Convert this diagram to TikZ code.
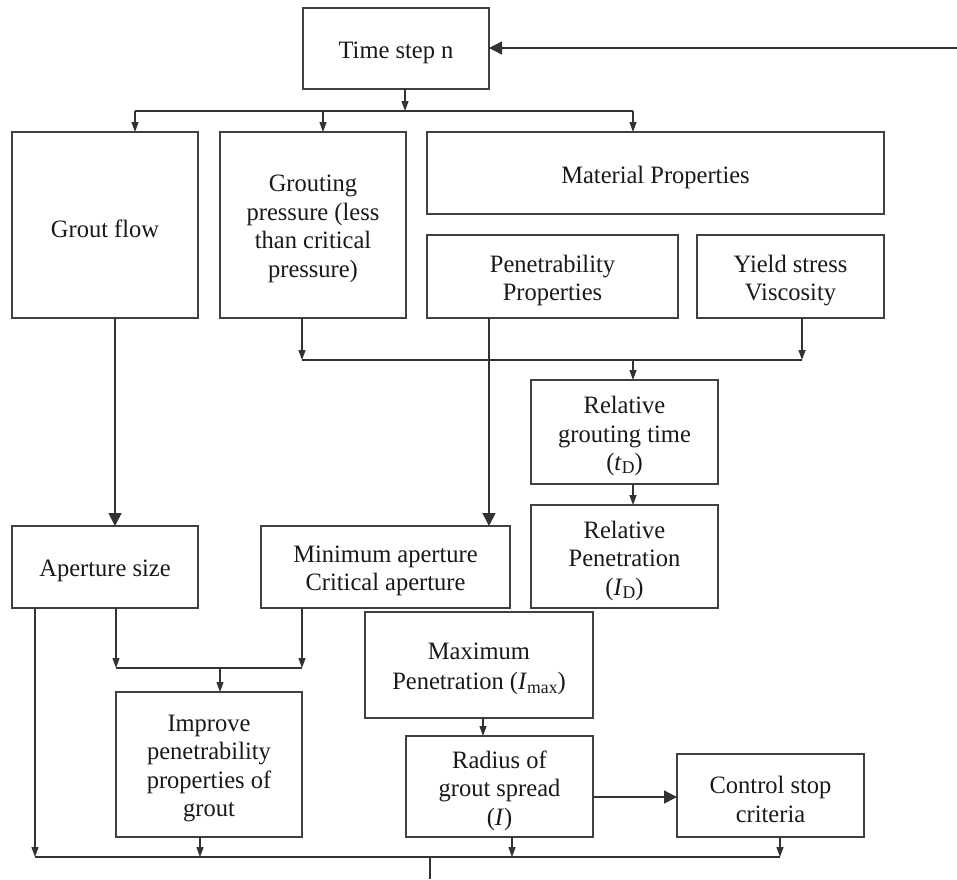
\documentclass[tikz,border=0pt]{standalone}
\usepackage{fontspec}
\setmainfont{Liberation Serif}[FakeStretch=0.98]
\usetikzlibrary{arrows.meta,positioning}
\newcommand{\subD}[1]{\raisebox{-0.3ex}{\fontsize{18}{18}\selectfont #1}}
\begin{document}
\begin{tikzpicture}[x=1pt,y=-1pt,
  txt/.style={align=center, font=\fontsize{25}{28.5}\selectfont, text=black!90, inner sep=0pt, yshift=-4pt},
  box/.style={draw=black!75, line width=1.8pt, anchor=north west, inner sep=0pt, outer sep=0pt,
    label={[txt]center:#1}},
  ln/.style={draw=black!80, line width=1.2pt},
  arr/.style={ln, -{Triangle[length=10pt,width=7pt]}},
  bigarr/.style={ln, line width=1.4pt, -{Triangle[length=13pt,width=13pt]}}]
\useasboundingbox (0,0) rectangle (957,879);
% boxes
\node[box={Time step n}, minimum width=186pt, minimum height=81pt] (ts) at (303,8) {};
\node[box={Grout flow}, minimum width=186pt, minimum height=186pt] (gf) at (12,132) {};
\node[box={Grouting\\pressure (less\\than critical\\pressure)}, minimum width=186pt, minimum height=186pt] (gp) at (220,132) {};
\node[box={Material Properties}, minimum width=457pt, minimum height=82pt] (mp) at (427,132) {};
\node[box={Penetrability\\Properties}, minimum width=251pt, minimum height=83pt] (pp) at (427,235) {};
\node[box={Yield stress\\Viscosity}, minimum width=187pt, minimum height=83pt] (ys) at (697,235) {};
\node[box={Relative\\grouting time\\(\textit{t}\subD{D})}, minimum width=187pt, minimum height=104pt] (rgt) at (531,380) {};
\node[box={Relative\\Penetration\\(\textit{I}\subD{D})}, minimum width=187pt, minimum height=103pt] (rp) at (531,505) {};
\node[box={Aperture size}, minimum width=186pt, minimum height=82pt] (as) at (12,526) {};
\node[box={Minimum aperture\\Critical aperture}, minimum width=249pt, minimum height=82pt] (ma) at (261,526) {};
\node[box={Maximum\\[2pt]Penetration (\textit{I}\subD{max})}, minimum width=228pt, minimum height=106pt] (mx) at (365,612) {};
\node[box={Improve\\penetrability\\properties of\\grout}, minimum width=186pt, minimum height=145pt] (imp) at (116,692) {};
\node[box={Radius of\\grout spread\\(\textit{I})}, minimum width=187pt, minimum height=101pt] (rad) at (406,736) {};
\node[box={Control stop\\criteria}, minimum width=187pt, minimum height=83pt] (ctl) at (677,754) {};
% top distribution
\coordinate (j1) at (405,111);
\coordinate (t1) at (135,111);
\coordinate (t2) at (323,111);
\coordinate (t3) at (633,111);
\draw[arr] (ts.south -| j1) -- (j1);
\draw[ln] (t1) -- (t3);
\draw[arr] (t1) -- (t1 |- gf.north);
\draw[arr] (t2) -- (t2 |- gp.north);
\draw[arr] (t3) -- (t3 |- mp.north);
% feedback from right
\coordinate (e) at (957,48);
\draw[bigarr] (e) -- (ts.east |- e);
% junction at y=360
\coordinate (m1) at (302,360);
\coordinate (m2) at (802,360);
\coordinate (m3) at (633,360);
\draw[arr] (m1 |- gp.south) -- (m1);
\draw[arr] (m2 |- ys.south) -- (m2);
\draw[ln] (m1) -- (m2);
\draw[arr] (m3) -- (m3 |- rgt.north);
\draw[arr] (rgt.south -| m3) -- (m3 |- rp.north);
% long arrows
\coordinate (p1) at (489,400);
\draw[bigarr] (pp.south -| p1) -- (p1 |- ma.north);
\coordinate (g1) at (115,400);
\draw[bigarr] (gf.south -| g1) -- (g1 |- as.north);
% junction at y=668
\coordinate (l1) at (116,668);
\coordinate (l2) at (302,668);
\coordinate (l3) at (220,668);
\draw[arr] (as.south -| l1) -- (l1);
\draw[arr] (ma.south -| l2) -- (l2);
\draw[ln] (l1) -- (l2);
\draw[arr] (l3) -- (l3 |- imp.north);
% max -> radius
\coordinate (r1) at (483,727);
\draw[arr] (mx.south -| r1) -- (r1 |- rad.north);
% radius -> control
\coordinate (c1) at (635,797);
\draw[bigarr] (rad.east |- c1) -- (ctl.west |- c1);
% bottom collector
\coordinate (b0) at (35,857);
\coordinate (b1) at (200,857);
\coordinate (b2) at (512,857);
\coordinate (b3) at (780,857);
\coordinate (b4) at (430,857);
\coordinate (bend) at (430,879);
\draw[arr] (as.south -| b0) -- (b0);
\draw[arr] (imp.south -| b1) -- (b1);
\draw[arr] (rad.south -| b2) -- (b2);
\draw[arr] (ctl.south -| b3) -- (b3);
\draw[ln] (b0) -- (b3);
\draw[ln] (b4) -- (bend);
\end{tikzpicture}
\end{document}
